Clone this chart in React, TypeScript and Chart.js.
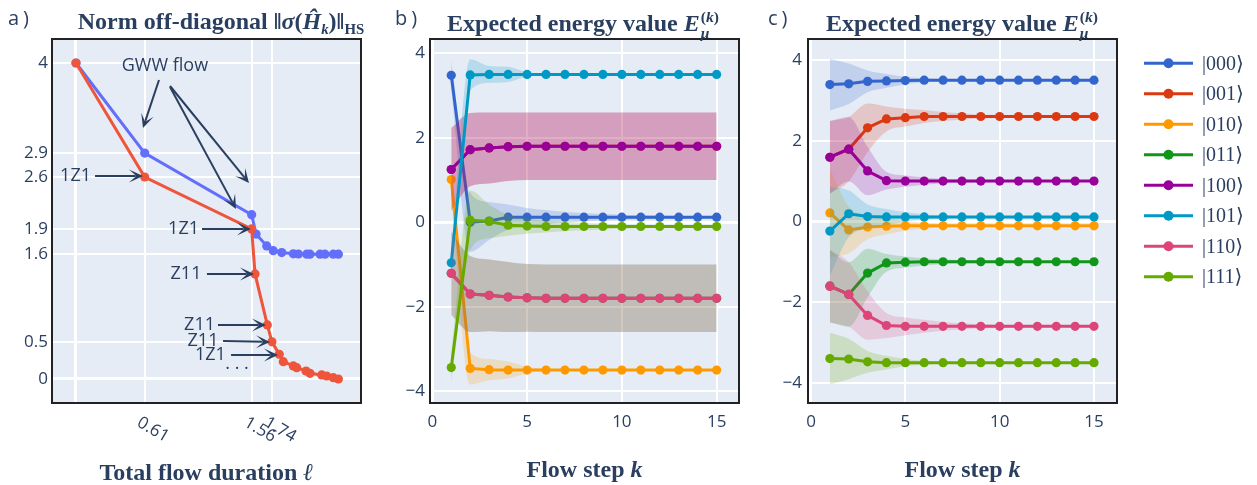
import React, { useEffect, useRef } from 'react';
import { Chart, registerables } from 'chart.js';

Chart.register(...registerables);

const TEXT = '#2a3f5f';
const PLOT_BG = '#e5ecf6';
const FRAME = '#222222';
const TICK_FONT = { family: '"Open Sans", sans-serif', size: 17 };

// ---------- Panel a: norm of the off-diagonal part vs total flow duration ----------
const gwwDuration = [0, 0.61, 1.56, 1.599, 1.694, 1.752, 1.827, 1.93, 1.975, 2.049, 2.078, 2.167, 2.211, 2.285, 2.33];
const gwwNorm = [4.0, 2.86, 2.08, 1.835, 1.684, 1.624, 1.6, 1.585, 1.582, 1.58, 1.58, 1.58, 1.58, 1.58, 1.58];
const dboDuration = [0, 0.61, 1.56, 1.59, 1.699, 1.74, 1.805, 1.841, 1.93, 1.96, 2.043, 2.078, 2.182, 2.226, 2.285, 2.33];
const dboNorm = [4.0, 2.557, 1.9, 1.33, 0.684, 0.47, 0.313, 0.219, 0.165, 0.143, 0.101, 0.072, 0.051, 0.038, 0.016, 0.0];
const durationTicks = [0, 0.61, 1.56, 1.74];
const durationTickLabels = ['', '0.61', '1.56', '1.74'];
const normTicks = [0, 0.47, 1.58, 1.9, 2.557, 2.86, 4];
const normTickLabels = ['0', '0.5', '1.6', '1.9', '2.6', '2.9', '4'];

// annotation labels and arrows (data coordinates of panel a)
const noteLabels = [
  { text: 'GWW flow', x: 0.79, y: 3.96 },
  { text: '1Z1', x: -0.004, y: 2.57 },
  { text: '1Z1', x: 0.955, y: 1.899 },
  { text: 'Z11', x: 0.977, y: 1.329 },
  { text: 'Z11', x: 1.097, y: 0.684 },
  { text: 'Z11', x: 1.128, y: 0.481 },
  { text: '1Z1', x: 1.194, y: 0.304 },
  { text: '· · ·', x: 1.43, y: 0.127 },
];
const noteArrows = [
  [0.737, 3.785, 0.595, 3.177],
  [0.835, 3.709, 1.536, 2.481],
  [0.835, 3.696, 1.421, 2.152],
  [0.169, 2.57, 0.595, 2.57],
  [1.119, 1.899, 1.554, 1.899],
  [1.163, 1.329, 1.581, 1.329],
  [1.261, 0.684, 1.687, 0.684],
  [1.306, 0.481, 1.723, 0.468],
  [1.377, 0.304, 1.794, 0.304],
];

// ---------- Panels b and c: expected energies per flow step ----------
const flowSteps = [1, 2, 3, 4, 5, 6, 7, 8, 9, 10, 11, 12, 13, 14, 15];
const stepTicks = [0, 5, 10, 15];
const energyTicks = [-4, -2, 0, 2, 4];
const stateLabels = ['|000⟩', '|001⟩', '|010⟩', '|011⟩', '|100⟩', '|101⟩', '|110⟩', '|111⟩'];
const stateColors = ['#3366CC', '#DC3912', '#FF9900', '#109618', '#990099', '#0099C6', '#DD4477', '#66AA00'];

// panel b means
const energyB000 = [3.48, 0.0, 0.03, 0.12, 0.12, 0.12, 0.12, 0.12, 0.12, 0.12, 0.12, 0.12, 0.12, 0.12, 0.12];
const energyB001 = [1.25, 1.72, 1.76, 1.79, 1.8, 1.8, 1.8, 1.8, 1.8, 1.8, 1.8, 1.8, 1.8, 1.8, 1.8];
const energyB010 = [1.01, -3.46, -3.49, -3.5, -3.5, -3.5, -3.5, -3.5, -3.5, -3.5, -3.5, -3.5, -3.5, -3.5, -3.5];
const energyB011 = [-1.21, -1.7, -1.73, -1.77, -1.79, -1.8, -1.8, -1.8, -1.8, -1.8, -1.8, -1.8, -1.8, -1.8, -1.8];
const energyB100 = [1.25, 1.72, 1.76, 1.79, 1.8, 1.8, 1.8, 1.8, 1.8, 1.8, 1.8, 1.8, 1.8, 1.8, 1.8];
const energyB101 = [-0.96, 3.49, 3.5, 3.5, 3.5, 3.5, 3.5, 3.5, 3.5, 3.5, 3.5, 3.5, 3.5, 3.5, 3.5];
const energyB110 = [-1.21, -1.7, -1.73, -1.77, -1.79, -1.8, -1.8, -1.8, -1.8, -1.8, -1.8, -1.8, -1.8, -1.8, -1.8];
const energyB111 = [-3.44, 0.05, 0.02, -0.07, -0.09, -0.1, -0.1, -0.1, -0.1, -0.1, -0.1, -0.1, -0.1, -0.1, -0.1];
// panel b spreads (half-width of shaded band)
const spreadB000 = [0.35, 0.7, 0.45, 0.3, 0.22, 0.17, 0.13, 0.1, 0.08, 0.06, 0.05, 0.04, 0.03, 0.03, 0.03];
const spreadB001 = [0.98, 0.87, 0.84, 0.81, 0.8, 0.8, 0.8, 0.8, 0.8, 0.8, 0.8, 0.8, 0.8, 0.8, 0.8];
const spreadB010 = [0.35, 0.38, 0.25, 0.2, 0.08, 0.03, 0, 0, 0, 0, 0, 0, 0, 0, 0];
const spreadB011 = [0.98, 0.9, 0.85, 0.83, 0.8, 0.8, 0.8, 0.8, 0.8, 0.8, 0.8, 0.8, 0.8, 0.8, 0.8];
const spreadB100 = [0.98, 0.87, 0.84, 0.81, 0.8, 0.8, 0.8, 0.8, 0.8, 0.8, 0.8, 0.8, 0.8, 0.8, 0.8];
const spreadB101 = [0.35, 0.37, 0.2, 0.18, 0.05, 0.02, 0, 0, 0, 0, 0, 0, 0, 0, 0];
const spreadB110 = [0.98, 0.9, 0.85, 0.83, 0.8, 0.8, 0.8, 0.8, 0.8, 0.8, 0.8, 0.8, 0.8, 0.8, 0.8];
const spreadB111 = [0.35, 0.7, 0.4, 0.25, 0.18, 0.14, 0.11, 0.09, 0.07, 0.05, 0.04, 0.03, 0.03, 0.02, 0.02];

// panel c means
const energyC000 = [3.39, 3.41, 3.47, 3.48, 3.49, 3.5, 3.5, 3.5, 3.5, 3.5, 3.5, 3.5, 3.5, 3.5, 3.5];
const energyC001 = [1.59, 1.79, 2.32, 2.54, 2.57, 2.6, 2.6, 2.6, 2.6, 2.6, 2.6, 2.6, 2.6, 2.6, 2.6];
const energyC010 = [0.21, -0.21, -0.14, -0.12, -0.11, -0.11, -0.11, -0.11, -0.11, -0.11, -0.11, -0.11, -0.11, -0.11, -0.11];
const energyC011 = [-1.6, -1.81, -1.28, -1.03, -1.01, -1.0, -1.0, -1.0, -1.0, -1.0, -1.0, -1.0, -1.0, -1.0, -1.0];
const energyC100 = [1.59, 1.79, 1.25, 1.01, 1.0, 1.0, 1.0, 1.0, 1.0, 1.0, 1.0, 1.0, 1.0, 1.0, 1.0];
const energyC101 = [-0.24, 0.19, 0.12, 0.11, 0.11, 0.11, 0.11, 0.11, 0.11, 0.11, 0.11, 0.11, 0.11, 0.11, 0.11];
const energyC110 = [-1.61, -1.81, -2.33, -2.58, -2.6, -2.6, -2.6, -2.6, -2.6, -2.6, -2.6, -2.6, -2.6, -2.6, -2.6];
const energyC111 = [-3.4, -3.41, -3.48, -3.5, -3.5, -3.5, -3.5, -3.5, -3.5, -3.5, -3.5, -3.5, -3.5, -3.5, -3.5];
// panel c spreads
const spreadC000 = [0.64, 0.5, 0.27, 0.17, 0.09, 0.05, 0.03, 0.02, 0.01, 0, 0, 0, 0, 0, 0];
const spreadC001 = [0.9, 0.8, 0.6, 0.31, 0.22, 0.16, 0.11, 0.08, 0.05, 0.04, 0.03, 0.02, 0.01, 0.01, 0];
const spreadC010 = [1.1, 0.58, 0.3, 0.2, 0.12, 0.07, 0.04, 0.02, 0.01, 0, 0, 0, 0, 0, 0];
const spreadC011 = [0.9, 0.8, 0.6, 0.22, 0.14, 0.09, 0.06, 0.04, 0.03, 0.02, 0.01, 0.01, 0, 0, 0];
const spreadC100 = [0.9, 0.8, 0.6, 0.22, 0.14, 0.09, 0.06, 0.04, 0.03, 0.02, 0.01, 0.01, 0, 0, 0];
const spreadC101 = [1.1, 0.58, 0.3, 0.2, 0.12, 0.07, 0.04, 0.02, 0.01, 0, 0, 0, 0, 0, 0];
const spreadC110 = [0.9, 0.8, 0.6, 0.31, 0.22, 0.16, 0.11, 0.08, 0.05, 0.04, 0.03, 0.02, 0.01, 0.01, 0];
const spreadC111 = [0.64, 0.5, 0.27, 0.17, 0.09, 0.05, 0.03, 0.02, 0.01, 0, 0, 0, 0, 0, 0];

// ---------- helpers ----------
function rgba(hex: string, a: number) {
  const n = parseInt(hex.slice(1), 16);
  return `rgba(${(n >> 16) & 255},${(n >> 8) & 255},${n & 255},${a})`;
}
const minusFmt = (v: number) => String(v).replace('-', '\u2212');

const gridOpts = {
  color: '#ffffff',
  lineWidth: (c: any) => (c.tick && c.tick.value === 0 ? 3 : 2),
  drawTicks: false,
};

const framePlugin = {
  id: 'plotFrame',
  beforeDraw(chart: any) {
    const { ctx, chartArea: a } = chart;
    ctx.save();
    ctx.fillStyle = PLOT_BG;
    ctx.fillRect(a.left, a.top, a.right - a.left, a.bottom - a.top);
    ctx.restore();
  },
  afterDraw(chart: any) {
    const { ctx, chartArea: a } = chart;
    ctx.save();
    ctx.strokeStyle = FRAME;
    ctx.lineWidth = 2;
    ctx.strokeRect(a.left, a.top, a.right - a.left, a.bottom - a.top);
    ctx.restore();
  },
};

function drawArrow(ctx: any, x0: number, y0: number, x1: number, y1: number) {
  const ang = Math.atan2(y1 - y0, x1 - x0);
  const L = 14, W = 6.5, N = 7.5;
  ctx.beginPath();
  ctx.moveTo(x0, y0);
  ctx.lineTo(x1 - N * Math.cos(ang), y1 - N * Math.sin(ang));
  ctx.stroke();
  ctx.save();
  ctx.translate(x1, y1);
  ctx.rotate(ang);
  ctx.beginPath();
  ctx.moveTo(0, 0);
  ctx.lineTo(-L, -W);
  ctx.lineTo(-N, -0.8);
  ctx.lineTo(-N, 0.8);
  ctx.lineTo(-L, W);
  ctx.closePath();
  ctx.fill();
  ctx.restore();
}

const annotationPlugin = {
  id: 'flowNotes',
  afterDraw(chart: any) {
    const { ctx, scales } = chart;
    const xs = scales.x, ys = scales.y;
    ctx.save();
    ctx.fillStyle = TEXT;
    ctx.strokeStyle = TEXT;
    ctx.lineWidth = 2;
    noteArrows.forEach(([ax, ay, bx, by]) => {
      drawArrow(ctx, xs.getPixelForValue(ax), ys.getPixelForValue(ay), xs.getPixelForValue(bx), ys.getPixelForValue(by));
    });
    ctx.font = '18px "Open Sans", sans-serif';
    ctx.textAlign = 'center';
    ctx.textBaseline = 'middle';
    noteLabels.forEach((n) => {
      ctx.fillText(n.text, xs.getPixelForValue(n.x), ys.getPixelForValue(n.y));
    });
    // rotated x tick labels
    ctx.font = '17px "Open Sans", sans-serif';
    ctx.textAlign = 'left';
    ctx.textBaseline = 'top';
    durationTicks.forEach((v, i) => {
      const lab = durationTickLabels[i];
      if (!lab) return;
      ctx.save();
      ctx.translate(xs.getPixelForValue(v) - 2, 414);
      ctx.rotate(Math.PI / 6);
      ctx.fillText(lab, 0, 0);
      ctx.restore();
    });
    ctx.restore();
  },
};

const legendPlugin = {
  id: 'stateLegend',
  afterDraw(chart: any) {
    const { ctx } = chart;
    ctx.save();
    stateLabels.forEach((lab, i) => {
      const y = 63.3 + 30.5 * i;
      const col = stateColors[i];
      ctx.strokeStyle = col;
      ctx.lineWidth = 3;
      ctx.beginPath();
      ctx.moveTo(384, y);
      ctx.lineTo(433, y);
      ctx.stroke();
      ctx.fillStyle = col;
      ctx.beginPath();
      ctx.arc(408.5, y, 5, 0, Math.PI * 2);
      ctx.fill();
      ctx.fillStyle = TEXT;
      ctx.font = '20px "Liberation Serif", "DejaVu Serif", serif';
      ctx.textAlign = 'left';
      ctx.textBaseline = 'middle';
      ctx.fillText(lab, 442, y + 1);
    });
    ctx.restore();
  },
};

function energyDatasets(means: number[][], spreads: number[][]) {
  const out: any[] = [];
  means.forEach((m, i) => {
    const color = stateColors[i];
    const s = spreads[i];
    out.push({
      label: stateLabels[i] + ' upper',
      data: flowSteps.map((k, j) => ({ x: k, y: m[j] + s[j] })),
      borderWidth: 0,
      pointRadius: 0,
      pointHoverRadius: 0,
      fill: '+1',
      backgroundColor: rgba(color, 0.2),
      cubicInterpolationMode: 'monotone',
      order: 1000 - 3 * i,
    });
    out.push({
      label: stateLabels[i] + ' lower',
      data: flowSteps.map((k, j) => ({ x: k, y: m[j] - s[j] })),
      borderWidth: 0,
      pointRadius: 0,
      pointHoverRadius: 0,
      fill: false,
      cubicInterpolationMode: 'monotone',
      order: 999 - 3 * i,
    });
    out.push({
      label: stateLabels[i],
      data: flowSteps.map((k, j) => ({ x: k, y: m[j] })),
      borderColor: color,
      backgroundColor: color,
      pointBackgroundColor: color,
      pointBorderWidth: 0,
      borderWidth: 3,
      pointRadius: 4.6,
      pointHoverRadius: 4.6,
      fill: false,
      order: 998 - 3 * i,
    });
  });
  return out;
}

function energyConfig(means: number[][], spreads: number[][], xr: number[], yr: number[], yWidth: number, yPad: number, padRight: number, extraPlugins: any[]) {
  return {
    type: 'line',
    data: { datasets: energyDatasets(means, spreads) },
    options: {
      responsive: false,
      animation: false,
      devicePixelRatio: 1,
      events: [],
      layout: { autoPadding: false, padding: { left: 0, top: 39, right: padRight, bottom: 0 } },
      plugins: { legend: { display: false }, tooltip: { enabled: false }, title: { display: false } },
      scales: {
        x: {
          type: 'linear',
          min: xr[0],
          max: xr[1],
          afterBuildTicks: (s: any) => { s.ticks = stepTicks.map((v) => ({ value: v })); },
          afterFit: (s: any) => { s.height = 82; },
          ticks: { font: TICK_FONT, color: TEXT, padding: 9, maxRotation: 0, autoSkip: false },
          grid: gridOpts,
          border: { display: false },
        },
        y: {
          type: 'linear',
          min: yr[0],
          max: yr[1],
          afterBuildTicks: (s: any) => { s.ticks = energyTicks.map((v) => ({ value: v })); },
          afterFit: (s: any) => { s.width = yWidth; },
          ticks: { font: TICK_FONT, color: TEXT, padding: yPad, autoSkip: false, callback: (v: number) => minusFmt(v) },
          grid: gridOpts,
          border: { display: false },
        },
      },
    },
    plugins: [framePlugin, ...extraPlugins],
  };
}

function normConfig() {
  return {
    type: 'line',
    data: {
      datasets: [
        {
          label: 'DBI (1Z1 / Z11)',
          data: dboDuration.map((x, i) => ({ x, y: dboNorm[i] })),
          borderColor: '#EF553B',
          backgroundColor: '#EF553B',
          pointBackgroundColor: '#EF553B',
          pointBorderWidth: 0,
          borderWidth: 3,
          pointRadius: 4.6,
          fill: false,
          order: 0,
        },
        {
          label: 'GWW flow',
          data: gwwDuration.map((x, i) => ({ x, y: gwwNorm[i] })),
          borderColor: '#636EFA',
          backgroundColor: '#636EFA',
          pointBackgroundColor: '#636EFA',
          pointBorderWidth: 0,
          borderWidth: 3,
          pointRadius: 4.6,
          fill: false,
          order: 1,
        },
      ],
    },
    options: {
      responsive: false,
      animation: false,
      devicePixelRatio: 1,
      events: [],
      layout: { autoPadding: false, padding: { left: 0, top: 39, right: 19, bottom: 0 } },
      plugins: { legend: { display: false }, tooltip: { enabled: false } },
      scales: {
        x: {
          type: 'linear',
          min: -0.2131,
          max: 2.531,
          afterBuildTicks: (s: any) => { s.ticks = durationTicks.map((v) => ({ value: v })); },
          afterFit: (s: any) => { s.height = 82; },
          ticks: { display: false },
          grid: gridOpts,
          border: { display: false },
        },
        y: {
          type: 'linear',
          min: -0.304,
          max: 4.304,
          afterBuildTicks: (s: any) => { s.ticks = normTicks.map((v) => ({ value: v })); },
          afterFit: (s: any) => { s.width = 52; },
          ticks: { font: TICK_FONT, color: TEXT, padding: 4, autoSkip: false, callback: (_v: number, i: number) => normTickLabels[i] },
          grid: gridOpts,
          border: { display: false },
        },
      },
    },
    plugins: [framePlugin, annotationPlugin],
  };
}

function ChartCanvas({ left, width, make }: { left: number; width: number; make: () => any }) {
  const ref = useRef<HTMLCanvasElement | null>(null);
  useEffect(() => {
    if (!ref.current) return;
    const chart = new Chart(ref.current, make());
    return () => chart.destroy();
  }, []);
  return (
    <canvas
      ref={ref}
      width={width}
      height={485}
      style={{ position: 'absolute', left, top: 0, width, height: 485, display: 'block' }}
    />
  );
}

const titleFont = 'bold 24px "Liberation Serif", "DejaVu Serif", serif';
const axisFont = 'bold 24px "Liberation Serif", "DejaVu Serif", serif';
const titleStyle: any = {
  position: 'absolute',
  top: 9,
  transform: 'translateX(-50%)',
  whiteSpace: 'nowrap',
  font: titleFont,
  lineHeight: '24px',
  color: TEXT,
};
const axisStyle: any = {
  position: 'absolute',
  transform: 'translateX(-50%)',
  whiteSpace: 'nowrap',
  font: axisFont,
  lineHeight: '24px',
  color: TEXT,
};
const panelLabel: any = {
  position: 'absolute',
  top: 8,
  font: '20px "Open Sans", sans-serif',
  lineHeight: '20px',
  letterSpacing: 4,
  color: TEXT,
};
const subStyle: any = { fontSize: '0.62em', verticalAlign: '-0.35em', lineHeight: 0 };

function EnergyTitle({ left }: { left: number }) {
  return (
    <div style={{ ...titleStyle, left }}>
      Expected energy value <i>E</i>
      <span
        style={{
          display: 'inline-flex',
          flexDirection: 'column',
          verticalAlign: 'middle',
          fontSize: '0.65em',
          lineHeight: 1.05,
          marginLeft: 1,
        }}
      >
        <span>
          (<i>k</i>)
        </span>
        <span>
          <i>μ</i>
        </span>
      </span>
    </div>
  );
}

export default function App() {
  const b = () =>
    energyConfig(
      [energyB000, energyB001, energyB010, energyB011, energyB100, energyB101, energyB110, energyB111],
      [spreadB000, spreadB001, spreadB010, spreadB011, spreadB100, spreadB101, spreadB110, spreadB111],
      [-0.121, 16.18],
      [-4.28, 4.34],
      50,
      5,
      21,
      []
    );
  const c = () =>
    energyConfig(
      [energyC000, energyC001, energyC010, energyC011, energyC100, energyC101, energyC110, energyC111],
      [spreadC000, spreadC001, spreadC010, spreadC011, spreadC100, spreadC101, spreadC110, spreadC111],
      [-0.159, 16.22],
      [-4.5, 4.52],
      48,
      6,
      140,
      [legendPlugin]
    );
  return (
    <div style={{ position: 'absolute', left: 0, top: 0, width: 1257, height: 485, background: '#ffffff', overflow: 'hidden' }}>
      <ChartCanvas left={0} width={380} make={normConfig} />
      <ChartCanvas left={380} width={380} make={b} />
      <ChartCanvas left={760} width={497} make={c} />

      <div style={{ ...panelLabel, left: 8 }}>a)</div>
      <div style={{ ...panelLabel, left: 395 }}>b)</div>
      <div style={{ ...panelLabel, left: 768 }}>c)</div>

      <div style={{ ...titleStyle, left: 221 }}>
        Norm off-diagonal ‖<i>σ</i>(<i>Ĥ</i>
        <sub style={subStyle}>
          <i>k</i>
        </sub>
        )‖<sub style={subStyle}>HS</sub>
      </div>
      <EnergyTitle left={583} />
      <EnergyTitle left={962} />

      <div style={{ ...axisStyle, left: 206.5, top: 460 }}>
        Total flow duration <i>ℓ</i>
      </div>
      <div style={{ ...axisStyle, left: 584.5, top: 456.6 }}>
        Flow step <i>k</i>
      </div>
      <div style={{ ...axisStyle, left: 962.5, top: 456.6 }}>
        Flow step <i>k</i>
      </div>
    </div>
  );
}
